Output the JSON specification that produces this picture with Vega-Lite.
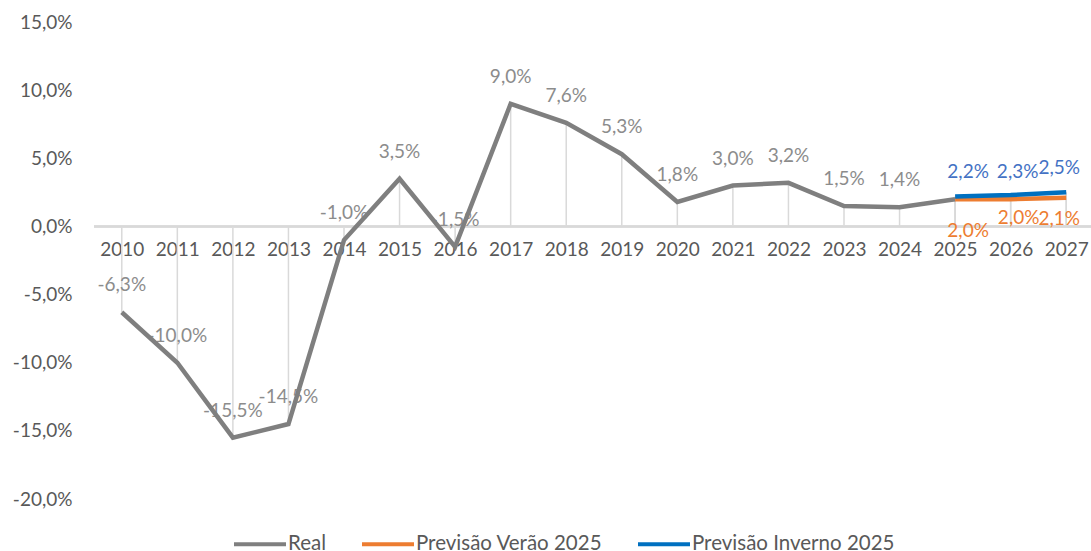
{
  "$schema": "https://vega.github.io/schema/vega-lite/v6.json",
  "width": 1000,
  "height": 477,
  "autosize": "none",
  "padding": {"left": 94, "top": 22, "right": 0, "bottom": 52},
  "background": "white",
  "config": {
    "view": {"stroke": null},
    "font": "Lato",
    "locale": {"number": {"decimal": ",", "thousands": ".", "grouping": [3], "currency": ["", " €"], "minus": "-"}}
  },
  "data": {
    "values": [
      {"year": "2010", "series": "Real", "value": -0.063},
      {"year": "2011", "series": "Real", "value": -0.100},
      {"year": "2012", "series": "Real", "value": -0.155},
      {"year": "2013", "series": "Real", "value": -0.145},
      {"year": "2014", "series": "Real", "value": -0.010},
      {"year": "2015", "series": "Real", "value": 0.035},
      {"year": "2016", "series": "Real", "value": -0.015},
      {"year": "2017", "series": "Real", "value": 0.090},
      {"year": "2018", "series": "Real", "value": 0.076},
      {"year": "2019", "series": "Real", "value": 0.053},
      {"year": "2020", "series": "Real", "value": 0.018},
      {"year": "2021", "series": "Real", "value": 0.030},
      {"year": "2022", "series": "Real", "value": 0.032},
      {"year": "2023", "series": "Real", "value": 0.015},
      {"year": "2024", "series": "Real", "value": 0.014},
      {"year": "2025", "series": "Real", "value": 0.020},
      {"year": "2025", "series": "Previsão Verão 2025", "value": 0.020},
      {"year": "2026", "series": "Previsão Verão 2025", "value": 0.020},
      {"year": "2027", "series": "Previsão Verão 2025", "value": 0.021},
      {"year": "2025", "series": "Previsão Inverno 2025", "value": 0.022},
      {"year": "2026", "series": "Previsão Inverno 2025", "value": 0.023},
      {"year": "2027", "series": "Previsão Inverno 2025", "value": 0.025}
    ]
  },
  "encoding": {
    "x": {
      "field": "year", "type": "nominal",
      "scale": {"type": "point", "padding": 0.5},
      "axis": {
        "orient": "bottom", "offset": -272.57, "domain": false, "ticks": false, "grid": false,
        "labelAngle": 0, "labelPadding": 14, "labelFontSize": 19, "labelColor": "#595959",
        "labelFont": "Lato", "title": null
      }
    },
    "y": {
      "field": "value", "type": "quantitative",
      "scale": {"domain": [-0.2, 0.15], "nice": false, "zero": false},
      "axis": {
        "values": [-0.2, -0.15, -0.1, -0.05, 0, 0.05, 0.1, 0.15],
        "format": ".1%", "domain": false, "ticks": false, "grid": false,
        "labelPadding": 22, "labelFontSize": 19, "labelColor": "#595959",
        "labelFont": "Lato", "title": null
      }
    }
  },
  "layer": [
    {
      "mark": {"type": "rule", "color": "#d9d9d9", "strokeWidth": 1.5},
      "encoding": {"y2": {"datum": 0}}
    },
    {
      "mark": {"type": "rule", "color": "#d9d9d9", "strokeWidth": 1.5},
      "encoding": {"x": null, "y": {"datum": 0}}
    },
    {
      "transform": [{"filter": "datum.series === 'Real' && datum.year !== '2025'"}],
      "mark": {"type": "text", "dy": -27, "fontSize": 19, "color": "#8c8c8c", "font": "Lato"},
      "encoding": {"text": {"field": "value", "type": "quantitative", "format": ".1%"}}
    },
    {
      "transform": [{"filter": "datum.series === 'Previsão Verão 2025' && datum.year === '2025'"}],
      "mark": {"type": "text", "dx": 13, "dy": 32, "fontSize": 19, "color": "#ED7D31", "font": "Lato"},
      "encoding": {"text": {"field": "value", "type": "quantitative", "format": ".1%"}}
    },
    {
      "transform": [{"filter": "datum.series === 'Previsão Verão 2025' && datum.year === '2026'"}],
      "mark": {"type": "text", "dx": 8, "dy": 19, "fontSize": 19, "color": "#ED7D31", "font": "Lato"},
      "encoding": {"text": {"field": "value", "type": "quantitative", "format": ".1%"}}
    },
    {
      "transform": [{"filter": "datum.series === 'Previsão Verão 2025' && datum.year === '2027'"}],
      "mark": {"type": "text", "dx": -7, "dy": 21, "fontSize": 19, "color": "#ED7D31", "font": "Lato"},
      "encoding": {"text": {"field": "value", "type": "quantitative", "format": ".1%"}}
    },
    {
      "transform": [{"filter": "datum.series === 'Previsão Inverno 2025' && datum.year === '2025'"}],
      "mark": {"type": "text", "dx": 13, "dy": -24, "fontSize": 19, "color": "#4472C4", "font": "Lato"},
      "encoding": {"text": {"field": "value", "type": "quantitative", "format": ".1%"}}
    },
    {
      "transform": [{"filter": "datum.series === 'Previsão Inverno 2025' && datum.year === '2026'"}],
      "mark": {"type": "text", "dx": 7, "dy": -23, "fontSize": 19, "color": "#4472C4", "font": "Lato"},
      "encoding": {"text": {"field": "value", "type": "quantitative", "format": ".1%"}}
    },
    {
      "transform": [{"filter": "datum.series === 'Previsão Inverno 2025' && datum.year === '2027'"}],
      "mark": {"type": "text", "dx": -7, "dy": -24, "fontSize": 19, "color": "#4472C4", "font": "Lato"},
      "encoding": {"text": {"field": "value", "type": "quantitative", "format": ".1%"}}
    },
    {
      "mark": {"type": "line", "strokeWidth": 4.5, "strokeJoin": "miter"},
      "encoding": {
        "color": {
          "field": "series", "type": "nominal",
          "scale": {
            "domain": ["Real", "Previsão Verão 2025", "Previsão Inverno 2025"],
            "range": ["#7f7f7f", "#ED7D31", "#0070C0"]
          },
          "legend": {
            "orient": "none", "legendX": 138, "legendY": 512, "direction": "horizontal",
            "title": null, "symbolType": "stroke", "symbolSize": 2704, "symbolStrokeWidth": 4,
            "clipHeight": 20,
            "labelFontSize": 20.5, "labelColor": "#595959", "labelFont": "Lato", "labelLimit": 400,
            "labelOffset": 0, "columnPadding": 33
          }
        }
      }
    }
  ]
}
